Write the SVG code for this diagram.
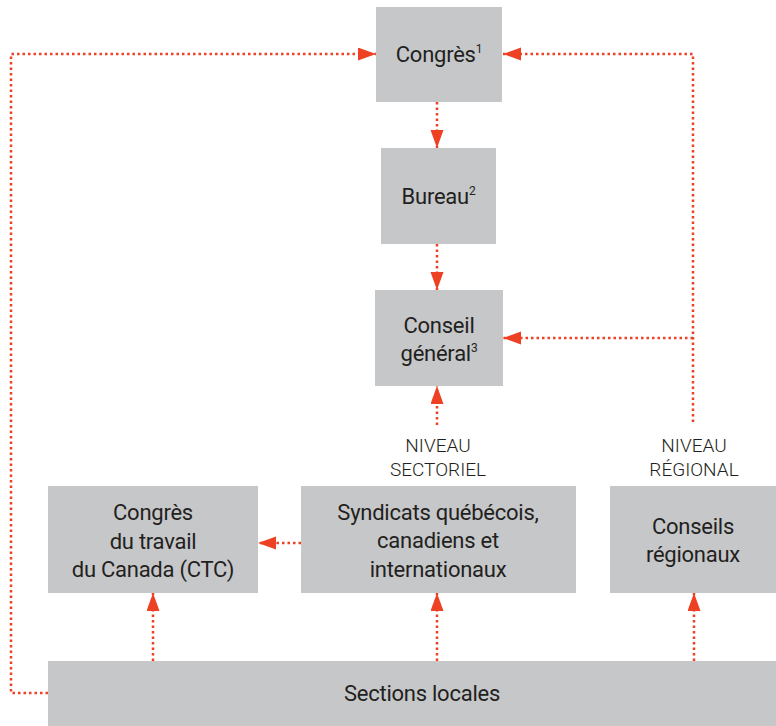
<svg xmlns="http://www.w3.org/2000/svg" width="776" height="726" viewBox="0 0 776 726">
<defs>
<style>
.box{fill:#c6c7c9}
.t{font-family:Roboto,"Liberation Sans",sans-serif;font-size:22px;letter-spacing:-0.25px;fill:#231f20;text-anchor:middle}
.lbl{font-family:Roboto,"Liberation Sans",sans-serif;font-size:19px;font-weight:300;fill:#231f20;text-anchor:middle}
.sup{font-size:12px}
.c{fill:none;stroke:#ee4023;stroke-width:2.5;stroke-dasharray:2.5 3}
</style>
<marker id="ah" markerUnits="userSpaceOnUse" markerWidth="19" markerHeight="14" refX="18" refY="6.5" orient="auto">
<path d="M0,0 L18,6.5 L0,13 z" fill="#ee4023"/>
</marker>
</defs>
<rect width="776" height="726" fill="#fff"/>
<g id="connectors">
<path class="c" d="M48,693 H11 V54 H376" marker-end="url(#ah)"/>
<path class="c" d="M693,422 V54 H503" marker-end="url(#ah)"/>
<path class="c" d="M693,338 H503" marker-end="url(#ah)"/>
<path class="c" d="M437,102 V148" marker-end="url(#ah)"/>
<path class="c" d="M437,244 V290" marker-end="url(#ah)"/>
<path class="c" d="M437,425 V386" marker-end="url(#ah)"/>
<path class="c" d="M301,543 H258" marker-end="url(#ah)"/>
<path class="c" d="M153,661 V593" marker-end="url(#ah)"/>
<path class="c" d="M437,661 V593" marker-end="url(#ah)"/>
<path class="c" d="M694,661 V593" marker-end="url(#ah)"/>
</g>
<g id="congres">
<rect class="box" x="376" y="7" width="126" height="95"/>
<text class="t" x="439" y="62">Congrès<tspan class="sup" dy="-9">1</tspan></text>
</g>
<g id="bureau">
<rect class="box" x="381" y="148" width="115" height="96"/>
<text class="t" x="438.5" y="204">Bureau<tspan class="sup" dy="-9">2</tspan></text>
</g>
<g id="conseil-general">
<rect class="box" x="375" y="290" width="128" height="96"/>
<text class="t" x="439" y="333">Conseil</text>
<text class="t" x="439" y="361">général<tspan class="sup" dy="-9">3</tspan></text>
</g>
<g id="niveau-sectoriel">
<text class="lbl" x="438" y="452">NIVEAU</text>
<text class="lbl" x="438" y="476">SECTORIEL</text>
</g>
<g id="niveau-regional">
<text class="lbl" x="694" y="452">NIVEAU</text>
<text class="lbl" x="694" y="476">RÉGIONAL</text>
</g>
<g id="ctc">
<rect class="box" x="48" y="486" width="210" height="107"/>
<text class="t" x="153" y="520">Congrès</text>
<text class="t" x="153" y="549">du travail</text>
<text class="t" x="153" y="577">du Canada (CTC)</text>
</g>
<g id="syndicats">
<rect class="box" x="301" y="486" width="275" height="107"/>
<text class="t" x="438" y="520">Syndicats québécois,</text>
<text class="t" x="438" y="548">canadiens et</text>
<text class="t" x="438" y="577">internationaux</text>
</g>
<g id="conseils-regionaux">
<rect class="box" x="610" y="486" width="166" height="107"/>
<text class="t" x="693" y="534">Conseils</text>
<text class="t" x="693" y="562">régionaux</text>
</g>
<g id="sections-locales">
<rect class="box" x="48" y="661" width="728" height="65"/>
<text class="t" x="422" y="701">Sections locales</text>
</g>
</svg>
